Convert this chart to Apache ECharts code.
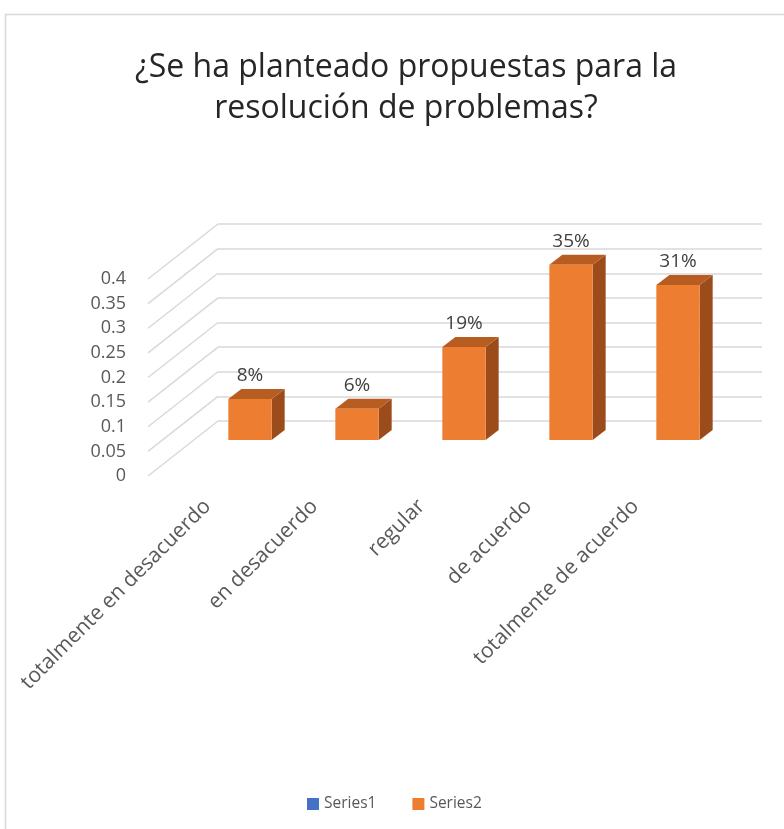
<!DOCTYPE html>
<html><head><meta charset="utf-8">
<script src="https://cdn.jsdelivr.net/npm/echarts@6/dist/echarts.min.js"></script>
<style>html,body{margin:0;padding:0;background:#fff}#c{width:784px;height:829px}</style>
</head><body><div id="c"></div>
<script>
const categories = ['totalmente en desacuerdo', 'en desacuerdo', 'regular', 'de acuerdo', 'totalmente de acuerdo'];
const series1Values = [];
const series2Values = [0.083, 0.063, 0.188, 0.354, 0.313];
const yTicks = [0, 0.05, 0.1, 0.15, 0.2, 0.25, 0.3, 0.35, 0.4];
const titleText = '¿Se ha planteado propuestas para la\nresolución de problemas?';
const seriesNames = ['Series1', 'Series2'];

const FONT = 'Open Sans';
const FRONT = '#ED7D31', TOPC = '#B85D22', SIDE = '#9C4C1B';
const DX = 13, DY = -10;

const chart = echarts.init(document.getElementById('c'));

function boxItem(params, api) {
  const i = api.value(0), v = api.value(1);
  const top = api.coord([i, v]);
  const base = api.coord([i, 0]);
  const w = api.size([1, 0])[0] * 0.405;
  const x0 = top[0] - w / 2, x1 = top[0] + w / 2;
  return {
    type: 'group',
    children: [
      { type: 'polygon', shape: { points: [[x1, top[1]], [x1 + DX, top[1] + DY], [x1 + DX, base[1] + DY], [x1, base[1]]] }, style: { fill: SIDE } },
      { type: 'polygon', shape: { points: [[x0, top[1]], [x0 + DX, top[1] + DY], [x1 + DX, top[1] + DY], [x1, top[1]]] }, style: { fill: TOPC } },
      { type: 'rect', shape: { x: x0, y: top[1], width: w, height: base[1] - top[1] }, style: { fill: FRONT } },
      { type: 'text', style: { text: Math.round(v * 100) + '%', x: top[0], y: top[1] + DY - 4, align: 'center', verticalAlign: 'bottom', fill: '#404040', fontSize: 19, fontFamily: FONT } }
    ]
  };
}

function diagItem(params, api) {
  const v = api.value(1);
  const p0 = api.coord([0, v]);
  const p1 = api.coord([1, v]);
  return { type: 'line', shape: { x1: p0[0], y1: p0[1], x2: p1[0], y2: p1[1] - 55 }, style: { stroke: '#d9d9d9', lineWidth: 1.5 } };
}

chart.setOption({
  animation: false,
  backgroundColor: '#fff',
  title: {
    text: titleText, left: 401, textAlign: 'center', top: 42,
    textStyle: { fontFamily: FONT, fontSize: 32, fontWeight: 'normal', color: '#262626', lineHeight: 41 }
  },
  legend: {
    data: seriesNames, left: 302, top: 791, icon: 'rect', itemWidth: 12, itemHeight: 12, itemGap: 36,
    textStyle: { fontFamily: FONT, fontSize: 15.5, color: '#595959' }
  },
  graphic: [{ type: 'rect', shape: { x: 5.5, y: 14.5, width: 900, height: 900 }, style: { fill: 'none', stroke: '#d9d9d9', lineWidth: 1.5 }, silent: true }],
  grid: [
    { left: 218, top: 224, width: 544, height: 197 },
    { left: 196.5, top: 242, width: 535, height: 198 },
    { left: 148, top: 279, width: 70, height: 197 },
    { left: 154, top: 307, width: 535, height: 190 }
  ],
  xAxis: [
    { gridIndex: 0, type: 'value', min: 0, max: 1, show: false },
    { gridIndex: 1, type: 'category', data: categories, show: false },
    { gridIndex: 2, type: 'value', min: 0, max: 1, show: false },
    { gridIndex: 3, type: 'category', data: categories, axisLine: { show: false }, axisTick: { show: false },
      axisLabel: { interval: 0, rotate: 45, margin: 6, fontFamily: FONT, fontSize: 21, color: '#595959' } }
  ],
  yAxis: [
    { gridIndex: 0, type: 'value', min: 0, max: 0.4, interval: 0.05, axisLabel: { show: false }, axisLine: { show: false }, axisTick: { show: false },
      splitLine: { lineStyle: { color: '#d9d9d9', width: 1.5 } } },
    { gridIndex: 1, type: 'value', min: 0, max: 0.4, show: false, splitLine: { show: false } },
    { gridIndex: 2, type: 'value', min: 0, max: 0.4, interval: 0.05, axisLine: { show: false }, axisTick: { show: false }, splitLine: { show: false },
      axisLabel: { margin: 22, fontFamily: FONT, fontSize: 18, color: '#595959' } },
    { gridIndex: 3, type: 'value', show: false, splitLine: { show: false } }
  ],
  series: [
    { type: 'custom', name: 'grid-diag', xAxisIndex: 2, yAxisIndex: 2, renderItem: diagItem, data: yTicks.map(v => [0, v]), silent: true, z: 1 },
    { type: 'bar', name: seriesNames[0], xAxisIndex: 1, yAxisIndex: 1, data: series1Values, itemStyle: { color: '#4472C4' } },
    { type: 'custom', name: seriesNames[1], xAxisIndex: 1, yAxisIndex: 1, renderItem: boxItem, itemStyle: { color: FRONT },
      data: series2Values.map((v, i) => [i, v]), z: 3 }
  ]
});
</script>
</body></html>
